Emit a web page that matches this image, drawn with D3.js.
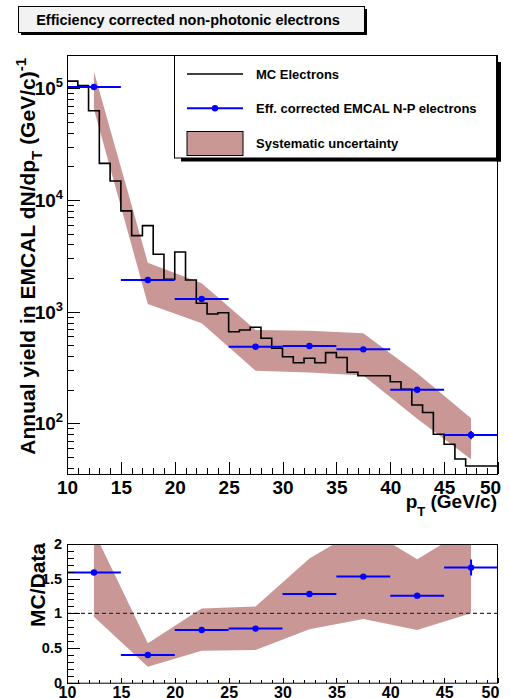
<!DOCTYPE html>
<html>
<head>
<meta charset="utf-8">
<script src="https://cdn.jsdelivr.net/npm/d3@7"></script>
<style>
  body { margin: 0; background: #fff; }
  svg { display: block; font-family: "Liberation Sans", Arial, Helvetica, sans-serif; font-weight: bold; }
  .axis path { display: none; }
  .axis line { stroke: #000; stroke-width: 1; shape-rendering: crispEdges; }
</style>
</head>
<body>
<svg width="510" height="698"></svg>
<script>
// ---- data ----
const ptEdges = d3.range(10, 51);          // 1 GeV/c bins of the MC histogram
const mcYield = [1.16e5, 1.06e5, 6.3e4, 2.13e4, 1.48e4, 8.0e3, 4.8e3, 5.9e3, 3.27e3, 1.95e3,
                 3.42e3, 1.92e3, 1.19e3, 953, 979, 662, 685, 725, 578, 470,
                 395, 349, 383, 349, 430, 389, 287, 267, 267, 267,
                 236, 202, 146, 125, 80, 65, 48, 41.5, 41.5, 41.5];
const ptCenters = [12.5, 17.5, 22.5, 27.5, 32.5, 37.5, 42.5, 47.5];
const ptHalfWidth = 2.5;
const dataYield = [1.03e5, 1.92e3, 1.30e3, 486, 493, 460, 200, 78.7];
const dataYieldErr = [1.0e3, 25, 18, 7, 7, 7, 5, 6.5];
const sysUpper = [1.41e5, 2.75e3, 1.80e3, 685, 675, 641, 281, 111];
const sysLower = [6.5e4, 1.17e3, 787, 296, 285, 268, 110, 47.7];
const ratio = [1.59, 0.40, 0.76, 0.78, 1.28, 1.53, 1.255, 1.66];
const ratioErr = [0.02, 0.01, 0.01, 0.01, 0.02, 0.02, 0.02, 0.115];
const ratioSysUpper = [2.18, 0.57, 1.07, 1.10, 1.79, 2.25, 1.78, 2.25];
const ratioSysLower = [0.95, 0.23, 0.46, 0.47, 0.77, 0.92, 0.76, 1.0];
const xMajorTicks = [10, 15, 20, 25, 30, 35, 40, 45, 50];
const yDecades = [1e2, 1e3, 1e4, 1e5];
const yDecadeExp = ["2", "3", "4", "5"];
const ratioTicks = [0, 0.5, 1, 1.5, 2];

const legendLabels = ["MC Electrons", "Eff. corrected EMCAL N-P electrons", "Systematic uncertainty"];
const titleText = "Efficiency corrected non-photonic electrons";

const bandColor = "#c99896";
const blue = "#0000ff";

const svg = d3.select("svg");

// ---- geometry ----
const left = 67, right = 498;
const topY0 = 55, topY1 = 474;
const botY0 = 544, botY1 = 682.7;

const x = d3.scaleLinear().domain([10, 50]).range([left, right]);
const y = d3.scaleLog().domain([35.2, 1.99e5]).range([topY1, topY0]);
const yr = d3.scaleLinear().domain([0, 2]).range([botY1, botY0]);

const xMinor = d3.range(10, 51).filter(v => v % 5 !== 0);
const yMinor = [];
[10, 100, 1000, 10000, 100000].forEach(dec => {
  for (let k = 2; k <= 9; k++) {
    const v = dec * k;
    if (v >= 35.2 && v <= 1.99e5) yMinor.push(v);
  }
});
const rMinor = d3.range(0, 21).map(i => i / 10).filter(v => Math.round(v * 10) % 5 !== 0);

// clip paths
const defs = svg.append("defs");
defs.append("clipPath").attr("id", "clipTop").append("rect")
  .attr("x", left).attr("y", topY0).attr("width", right - left).attr("height", topY1 - topY0);
defs.append("clipPath").attr("id", "clipBot").append("rect")
  .attr("x", left).attr("y", botY0).attr("width", right - left).attr("height", botY1 - botY0);

/* ================= TOP PANEL ================= */
const gTop = svg.append("g").attr("clip-path", "url(#clipTop)");

// systematic band
const pts = ptCenters.map((c, i) => ({ c, v: dataYield[i], e: dataYieldErr[i], lo: sysLower[i], hi: sysUpper[i] }));
gTop.append("path")
  .datum(pts)
  .attr("fill", bandColor)
  .attr("d", d3.area().x(d => x(d.c)).y0(d => y(d.lo)).y1(d => y(d.hi)));

// MC histogram
const histPts = ptEdges.map((e, i) => ({ e, v: mcYield[Math.min(i, mcYield.length - 1)] }));
gTop.append("path")
  .datum(histPts)
  .attr("fill", "none")
  .attr("stroke", "#000")
  .attr("stroke-width", 1.6)
  .attr("d", d3.line().curve(d3.curveStepAfter).x(d => x(d.e)).y(d => y(d.v)));

// data points
const gPts = gTop.append("g");
gPts.selectAll(".xerr").data(pts).enter().append("line")
  .attr("x1", d => x(d.c - ptHalfWidth)).attr("x2", d => x(d.c + ptHalfWidth))
  .attr("y1", d => y(d.v)).attr("y2", d => y(d.v))
  .attr("stroke", blue).attr("stroke-width", 2);
gPts.selectAll(".yerr").data(pts).enter().append("line")
  .attr("x1", d => x(d.c)).attr("x2", d => x(d.c))
  .attr("y1", d => y(d.v - d.e)).attr("y2", d => y(d.v + d.e))
  .attr("stroke", blue).attr("stroke-width", 2);
gPts.selectAll("circle").data(pts).enter().append("circle")
  .attr("cx", d => x(d.c)).attr("cy", d => y(d.v)).attr("r", 3.2).attr("fill", blue);

// frame
svg.append("rect")
  .attr("x", left + 0.5).attr("y", topY0 + 0.5)
  .attr("width", right - left - 1).attr("height", topY1 - topY0)
  .attr("fill", "none").attr("stroke", "#000").attr("stroke-width", 1);

// x axis (top panel)
const xAxisTop = svg.append("g").attr("class", "axis").attr("transform", `translate(0,${topY1})`)
  .call(d3.axisBottom(x).tickValues(xMajorTicks).tickSizeInner(-12).tickSizeOuter(0).tickPadding(7).tickFormat(d3.format("d")));
xAxisTop.selectAll("text").attr("font-size", 19).attr("fill", "#000").attr("font-family", null);
xAxisTop.selectAll("text").filter(d => d === 50).attr("dx", -8);
svg.append("g").attr("class", "axis").attr("transform", `translate(0,${topY1})`)
  .call(d3.axisBottom(x).tickValues(xMinor).tickSizeInner(-6).tickSizeOuter(0).tickFormat(""));

// y axis (log)
svg.append("g").attr("class", "axis").attr("transform", `translate(${left},0)`)
  .call(d3.axisLeft(y).tickValues(yDecades).tickSizeInner(-13).tickSizeOuter(0).tickFormat(""));
svg.append("g").attr("class", "axis").attr("transform", `translate(${left},0)`)
  .call(d3.axisLeft(y).tickValues(yMinor).tickSizeInner(-6.5).tickSizeOuter(0).tickFormat(""));

const yLab = svg.append("g").selectAll("text").data(yDecades).enter().append("text")
  .attr("x", 63).attr("y", d => y(d) + 6.8)
  .attr("text-anchor", "end").attr("font-size", 19);
yLab.append("tspan").text("10");
yLab.append("tspan").attr("font-size", 13).attr("dy", -8).text((d, i) => yDecadeExp[i]);

// x title
const xt = svg.append("text").attr("x", 497).attr("y", 508).attr("text-anchor", "end").attr("font-size", 19);
xt.append("tspan").text("p");
xt.append("tspan").attr("font-size", 13).attr("dy", 8).text("T");
xt.append("tspan").attr("dy", -8).text(" (GeV/c)");

// y title
const yt = svg.append("text").attr("transform", "translate(35,58) rotate(-90)")
  .attr("text-anchor", "end").attr("font-size", 21);
yt.append("tspan").text("Annual yield in EMCAL dN/dp");
yt.append("tspan").attr("font-size", 15).attr("dy", 7).text("T");
yt.append("tspan").attr("dy", -7).text(" (GeV/c)");
yt.append("tspan").attr("font-size", 15).attr("dy", -9).text("-1");

// legend
const lg = svg.append("g");
lg.append("rect").attr("x", 181).attr("y", 157.5).attr("width", 320).attr("height", 4).attr("fill", "#000");
lg.append("rect").attr("x", 496.5).attr("y", 62).attr("width", 4.5).attr("height", 99.5).attr("fill", "#000");
lg.append("rect").attr("x", 174.5).attr("y", 55.5).attr("width", 322).attr("height", 102.5)
  .attr("fill", "#fff").attr("stroke", "#000").attr("stroke-width", 1);
const legY = [74, 108.3, 143.3];
lg.append("line").attr("x1", 187).attr("x2", 243).attr("y1", legY[0]).attr("y2", legY[0])
  .attr("stroke", "#000").attr("stroke-width", 1.6);
lg.append("line").attr("x1", 187).attr("x2", 243).attr("y1", legY[1]).attr("y2", legY[1])
  .attr("stroke", blue).attr("stroke-width", 2);
lg.append("circle").attr("cx", 215).attr("cy", legY[1]).attr("r", 3.2).attr("fill", blue);
lg.append("rect").attr("x", 187).attr("y", 131.5).attr("width", 56).attr("height", 24)
  .attr("fill", bandColor).attr("stroke", "#000").attr("stroke-width", 1);
lg.selectAll(".lt").data(legendLabels).enter().append("text")
  .attr("x", 256).attr("y", (d, i) => legY[i] + 4.7).attr("font-size", 13).text(d => d);

// title box
const tb = svg.append("g");
tb.append("rect").attr("x", 21).attr("y", 32).attr("width", 346).attr("height", 3).attr("fill", "#000");
tb.append("rect").attr("x", 364).attr("y", 9).attr("width", 3).attr("height", 26).attr("fill", "#000");
tb.append("rect").attr("x", 18.5).attr("y", 6.5).attr("width", 346).attr("height", 26)
  .attr("fill", "#f2f2f2").attr("stroke", "#000").attr("stroke-width", 1);
tb.append("text").attr("x", 188).attr("y", 25).attr("text-anchor", "middle").attr("font-size", 14.5).text(titleText);

/* ================= RATIO PANEL ================= */
const gBot = svg.append("g").attr("clip-path", "url(#clipBot)");
const rpts = ptCenters.map((c, i) => ({ c, v: ratio[i], e: ratioErr[i], lo: ratioSysLower[i], hi: ratioSysUpper[i] }));

gBot.append("path")
  .datum(rpts)
  .attr("fill", bandColor)
  .attr("d", d3.area().x(d => x(d.c)).y0(d => yr(d.lo)).y1(d => yr(d.hi)));

gBot.append("line")
  .attr("x1", x(10)).attr("x2", x(50)).attr("y1", yr(1)).attr("y2", yr(1))
  .attr("stroke", "#333").attr("stroke-width", 1.3).attr("stroke-dasharray", "4,3");

gBot.selectAll(".rx").data(rpts).enter().append("line")
  .attr("x1", d => x(d.c - ptHalfWidth)).attr("x2", d => x(d.c + ptHalfWidth))
  .attr("y1", d => yr(d.v)).attr("y2", d => yr(d.v))
  .attr("stroke", blue).attr("stroke-width", 2);
gBot.selectAll(".ry").data(rpts).enter().append("line")
  .attr("x1", d => x(d.c)).attr("x2", d => x(d.c))
  .attr("y1", d => yr(d.v - d.e)).attr("y2", d => yr(d.v + d.e))
  .attr("stroke", blue).attr("stroke-width", 2);
gBot.selectAll("circle").data(rpts).enter().append("circle")
  .attr("cx", d => x(d.c)).attr("cy", d => yr(d.v)).attr("r", 3.2).attr("fill", blue);

svg.append("rect")
  .attr("x", left + 0.5).attr("y", botY0 + 0.5)
  .attr("width", right - left - 1).attr("height", botY1 - botY0)
  .attr("fill", "none").attr("stroke", "#000").attr("stroke-width", 1);

const xAxisBot = svg.append("g").attr("class", "axis").attr("transform", `translate(0,${botY1})`)
  .call(d3.axisBottom(x).tickValues(xMajorTicks).tickSizeInner(-5).tickSizeOuter(0).tickPadding(4).tickFormat(d3.format("d")));
xAxisBot.selectAll("text").attr("font-size", 16).attr("fill", "#000").attr("font-family", null);
xAxisBot.selectAll("text").filter(d => d === 50).attr("dx", -8);
svg.append("g").attr("class", "axis").attr("transform", `translate(0,${botY1})`)
  .call(d3.axisBottom(x).tickValues(xMinor).tickSizeInner(-2.5).tickSizeOuter(0).tickFormat(""));

const yAxisBot = svg.append("g").attr("class", "axis").attr("transform", `translate(${left},0)`)
  .call(d3.axisLeft(yr).tickValues(ratioTicks).tickSizeInner(-13).tickSizeOuter(0).tickPadding(5).tickFormat(d => String(d)));
yAxisBot.selectAll("text").attr("font-size", 14.5).attr("fill", "#000").attr("font-family", null);
svg.append("g").attr("class", "axis").attr("transform", `translate(${left},0)`)
  .call(d3.axisLeft(yr).tickValues(rMinor).tickSizeInner(-6.5).tickSizeOuter(0).tickFormat(""));

svg.append("text").attr("transform", "translate(45,543) rotate(-90)")
  .attr("text-anchor", "end").attr("font-size", 21).text("MC/Data");
</script>
</body>
</html>
